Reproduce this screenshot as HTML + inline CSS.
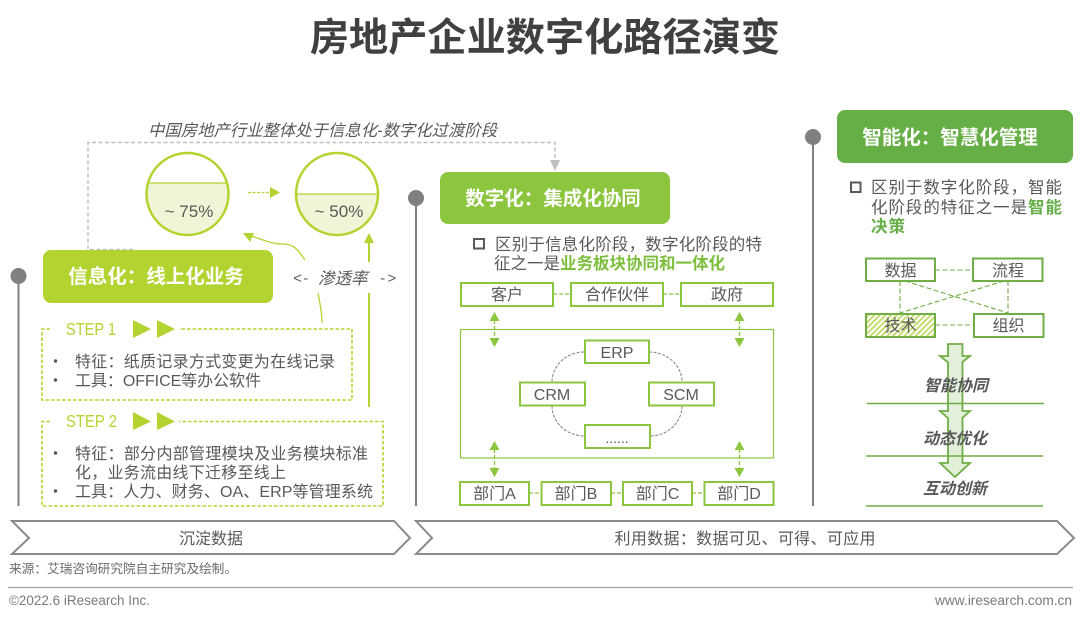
<!DOCTYPE html>
<html><head><meta charset="utf-8">
<style>
html,body{margin:0;padding:0;background:#fff;width:1080px;height:620px;overflow:hidden}
svg{display:block}
text{font-family:"Liberation Sans","Noto Sans CJK SC",sans-serif;fill:#595959}
.c{text-anchor:middle}
.w{fill:#fff;font-weight:700;font-size:19.5px}
.b{fill:#fff;stroke:#8cc63f;stroke-width:2}
.g{fill:none;stroke:#8cc63f;stroke-width:1.3;stroke-dasharray:4 2}
.r{fill:#fff;stroke:#70ad47;stroke-width:2}
.rd{fill:none;stroke:#70ad47;stroke-width:1.1;stroke-dasharray:5 2.5}
.arc{fill:none;stroke:#808080;stroke-width:1;stroke-dasharray:3 1.5}
.t{font-size:16px}
.s{fill:none;stroke:#b3d430;stroke-width:1.6;stroke-dasharray:3.5 2}
</style></head><body>
<svg width="1080" height="620" viewBox="0 0 1080 620" xmlns="http://www.w3.org/2000/svg">
<defs>
<pattern id="h" width="4" height="4" patternUnits="userSpaceOnUse" patternTransform="rotate(45)">
<rect width="4" height="4" fill="#fff"/><rect width="2" height="4" fill="#c5dc70"/>
</pattern>
</defs>

<text x="545" y="51" class="c" font-size="39.2" font-weight="700" style="fill:#404040">房地产企业数字化路径演变</text>

<text x="148" y="136" font-size="16.3" style="font-style:italic" textLength="349">中国房地产行业整体处于信息化-数字化过渡阶段</text>
<path d="M133 249.500H88V142.500H555V162" fill="none" stroke="#bfbfbf" stroke-width="1.5" stroke-dasharray="4 2.500"/>
<path d="M550 160L560 160L555 171Z" fill="#bfbfbf"/>

<!-- timelines -->
<g stroke="#808080" stroke-width="2" fill="#808080">
<line x1="18.500" y1="276" x2="18.500" y2="506"/><circle cx="18.500" cy="276" r="8" stroke="none"/>
<line x1="416" y1="198" x2="416" y2="506"/><circle cx="416" cy="198" r="8" stroke="none"/>
<line x1="813" y1="137" x2="813" y2="506"/><circle cx="813" cy="137" r="8" stroke="none"/>
</g>

<!-- circles -->
<clipPath id="c1"><rect x="140" y="183" width="100" height="60"/></clipPath>
<clipPath id="c2"><rect x="290" y="194" width="100" height="60"/></clipPath>
<circle cx="187.500" cy="194" r="41" fill="#fff"/>
<circle cx="187.500" cy="194" r="41" fill="#eff5d6" clip-path="url(#c1)"/>
<line x1="148" y1="183" x2="227" y2="183" stroke="#b3d430" stroke-width="1.300"/>
<circle cx="187.500" cy="194" r="41" fill="none" stroke="#b3d430" stroke-width="2.500"/>
<circle cx="337" cy="194" r="41" fill="#eff5d6" clip-path="url(#c2)"/>
<line x1="297" y1="194" x2="377" y2="194" stroke="#b3d430" stroke-width="1.300"/>
<circle cx="337" cy="194" r="41" fill="none" stroke="#b3d430" stroke-width="2.500"/>
<text x="189" y="217" class="c" font-size="17">~ 75%</text>
<text x="339" y="217" class="c" font-size="17">~ 50%</text>
<line x1="248" y1="192.500" x2="271" y2="192.500" stroke="#b3d430" stroke-width="1.200" stroke-dasharray="3 1.500"/>
<path d="M270 187L280 192.500L270 198Z" fill="#b3d430"/>

<!-- pills -->
<rect x="43" y="250" width="230" height="53" rx="8" fill="#b3d430"/>
<text x="156" y="283" class="c w">信息化：线上化业务</text>
<rect x="440" y="172" width="230" height="52" rx="8" fill="#8cc63f"/>
<text x="553" y="205" class="c w">数字化：集成化协同</text>
<rect x="837" y="110" width="236" height="53" rx="8" fill="#66ae46"/>
<text x="950" y="144" class="c w">智能化：智慧化管理</text>

<!-- penetration -->
<text x="293" y="283" font-size="15" style="font-style:italic" textLength="15">&lt;-</text>
<text x="318" y="284" font-size="16.500" style="font-style:italic">渗透率</text>
<text x="380" y="283" font-size="15" style="font-style:italic" textLength="16">-&gt;</text>
<path d="M305 260C298 250 294 244 283 244C270 244 262 239 248 235" fill="none" stroke="#b3d430" stroke-width="1.300"/>
<path d="M243 233L254 233L250 242Z" fill="#b3d430"/>
<path d="M318 293C320 303 322 313 322 323" fill="none" stroke="#b3d430" stroke-width="1.300"/>
<path d="M369 243V262M369 293V407" fill="none" stroke="#b3d430" stroke-width="2"/>
<path d="M369 233L374 243L364 243Z" fill="#b3d430"/>

<!-- step 1 -->
<path d="M50 329H42V400H352V329H179" class="s"/>
<text x="66" y="335" font-size="17.500" style="fill:#b3d430" textLength="50" lengthAdjust="spacingAndGlyphs">STEP 1</text>
<path d="M133 320L151 329L133 338ZM157 320L175 329L157 338Z" fill="#b3d430"/>
<circle cx="55.500" cy="361" r="1.700" fill="#595959"/><circle cx="55.500" cy="380" r="1.700" fill="#595959"/>
<text x="75" y="367" class="t" textLength="260">特征：纸质记录方式变更为在线记录</text>
<text x="75" y="386" class="t" textLength="186">工具：OFFICE等办公软件</text>

<!-- step 2 -->
<path d="M50 421.500H42V506H383V421.500H179" class="s"/>
<text x="66" y="427" font-size="17.500" style="fill:#b3d430" textLength="51" lengthAdjust="spacingAndGlyphs">STEP 2</text>
<path d="M133 412L151 421.500L133 430ZM157 412L175 421.500L157 430Z" fill="#b3d430"/>
<circle cx="55.500" cy="453" r="1.700" fill="#595959"/><circle cx="55.500" cy="491" r="1.700" fill="#595959"/>
<text x="75" y="459" class="t" textLength="293">特征：部分内部管理模块及业务模块标准</text>
<text x="75" y="478" class="t" textLength="211">化，业务流由线下迁移至线上</text>
<text x="75" y="497" class="t" textLength="298">工具：人力、财务、OA、ERP等管理系统</text>

<!-- chevrons -->
<path d="M12 521H394L410 538L394 554H12L29 538Z" fill="#fff" stroke="#8a8a8a" stroke-width="2"/>
<path d="M416 521H1057L1074 538L1057 554H416L432 538Z" fill="#fff" stroke="#8a8a8a" stroke-width="2"/>
<text x="211" y="544" class="c t">沉淀数据</text>
<text x="745" y="544" class="c t" textLength="261">利用数据：数据可见、可得、可应用</text>

<!-- middle text -->
<rect x="474" y="239" width="10" height="9.500" fill="none" stroke="#595959" stroke-width="2"/>
<text x="495" y="250" font-size="16.500" textLength="267">区别于信息化阶段，数字化阶段的特</text>
<text x="494" y="269" font-size="16.500">征之一是<tspan font-weight="700" style="fill:#7dbf3c">业务板块协同和一体化</tspan></text>

<!-- middle boxes -->
<path d="M553 294H570M663 294H681M529 493H541M611 493H623M692 493H704" class="g"/>
<rect x="461" y="283" width="92" height="23" class="b"/>
<rect x="571" y="283" width="92" height="23" class="b"/>
<rect x="681" y="283" width="92" height="23" class="b"/>
<text x="507" y="300" class="c t">客户</text>
<text x="617" y="300" class="c t">合作伙伴</text>
<text x="727" y="300" class="c t">政府</text>

<rect x="460.500" y="329.500" width="313" height="128.500" fill="#fff" stroke="#8cc63f" stroke-width="1.200"/>
<path d="M584 352C566 352 552 366 552 382M649 352C668 352 682 366 682 382M552 406C552 422 566 436 585 436M682 406C682 422 668 436 650 436" class="arc"/>
<rect x="585" y="340.500" width="64" height="22.500" class="b"/>
<rect x="520" y="382.500" width="65" height="23" class="b"/>
<rect x="649" y="382.500" width="65" height="23" class="b"/>
<rect x="585" y="425" width="65" height="23" class="b"/>
<text x="617" y="358" class="c t">ERP</text>
<text x="552" y="400" class="c t">CRM</text>
<text x="681" y="400" class="c t">SCM</text>
<text x="617" y="443" class="c" font-size="14">......</text>

<g fill="#8cc63f">
<path d="M494.500 312L499.500 321H489.500ZM494.500 347L489.500 338H499.500ZM739.500 312L744.500 321H734.500ZM739.500 347L734.500 338H744.500ZM494.500 441L499.500 450H489.500ZM494.500 477L489.500 468H499.500ZM739.500 441L744.500 450H734.500ZM739.500 477L734.500 468H744.500Z"/>
</g>
<path d="M494.500 320V339M739.500 320V339M494.500 449V469M739.500 449V469" class="g"/>

<rect x="460" y="482" width="69" height="23" class="b"/>
<rect x="541.500" y="482" width="69.500" height="23" class="b"/>
<rect x="623" y="482" width="69" height="23" class="b"/>
<rect x="704.500" y="482" width="69" height="23" class="b"/>
<text x="494.500" y="499" class="c t">部门A</text>
<text x="576" y="499" class="c t">部门B</text>
<text x="657.500" y="499" class="c t">部门C</text>
<text x="739" y="499" class="c t">部门D</text>

<!-- right text -->
<rect x="851" y="182.500" width="9.500" height="9.500" fill="none" stroke="#595959" stroke-width="2"/>
<text x="871" y="193" font-size="16.500" textLength="191">区别于数字化阶段，智能</text>
<text x="871" y="213" font-size="16.500" textLength="191">化阶段的特征之一是<tspan font-weight="700" style="fill:#66ae46">智能</tspan></text>
<text x="871" y="232" font-size="16.500" font-weight="700" textLength="34" style="fill:#66ae46">决策</text>

<!-- right grid -->
<path d="M935 270H973M935 325H974M900 281V314M1008 281V314M905 281L1008 313M1004 281L900 313" class="rd"/>
<rect x="866" y="258.500" width="69" height="22.500" class="r"/>
<rect x="973" y="258.500" width="69.500" height="22.500" class="r"/>
<rect x="866" y="314" width="69" height="23" fill="url(#h)" stroke="#70ad47" stroke-width="2"/>
<rect x="974" y="314" width="69.500" height="23" class="r"/>
<text x="900.500" y="276" class="c t">数据</text>
<text x="1008" y="276" class="c t">流程</text>
<text x="900.500" y="331" class="c t">技术</text>
<text x="1008.500" y="331" class="c t">组织</text>

<!-- right arrows -->
<path d="M948 344H962.500V356H970L955 368L940 356H948Z" fill="#e2efd9" stroke="#70ad47" stroke-width="1.800"/>
<path d="M948 362V411H940L955 424.500L970 411H962.500V362" fill="#e2efd9" stroke="#70ad47" stroke-width="1.800"/>
<path d="M948 418V463H940L955 477L970 463H962.500V418" fill="#e2efd9" stroke="#70ad47" stroke-width="1.800"/>
<path d="M867 403.500H1044M866 456H1043M866 506H1043" stroke="#70ad47" stroke-width="1.500" fill="none"/>
<text x="956" y="391" class="c" font-size="16" font-weight="700" style="font-style:italic">智能协同</text>
<text x="955" y="444" class="c" font-size="16" font-weight="700" style="font-style:italic">动态优化</text>
<text x="955" y="494" class="c" font-size="16" font-weight="700" style="font-style:italic">互动创新</text>

<!-- footer -->
<text x="9" y="573" font-size="12.700" textLength="228" style="fill:#6a6a6a">来源：艾瑞咨询研究院自主研究及绘制。</text>
<line x1="8" y1="587.500" x2="1073" y2="587.500" stroke="#a6a6a6" stroke-width="1.200"/>
<text x="9" y="605" font-size="13.500" textLength="141" lengthAdjust="spacingAndGlyphs" style="fill:#7a7a7a">©2022.6 iResearch Inc.</text>
<text x="935" y="605" font-size="13.500" textLength="137" lengthAdjust="spacingAndGlyphs" style="fill:#7a7a7a">www.iresearch.com.cn</text>
</svg>
</body></html>
